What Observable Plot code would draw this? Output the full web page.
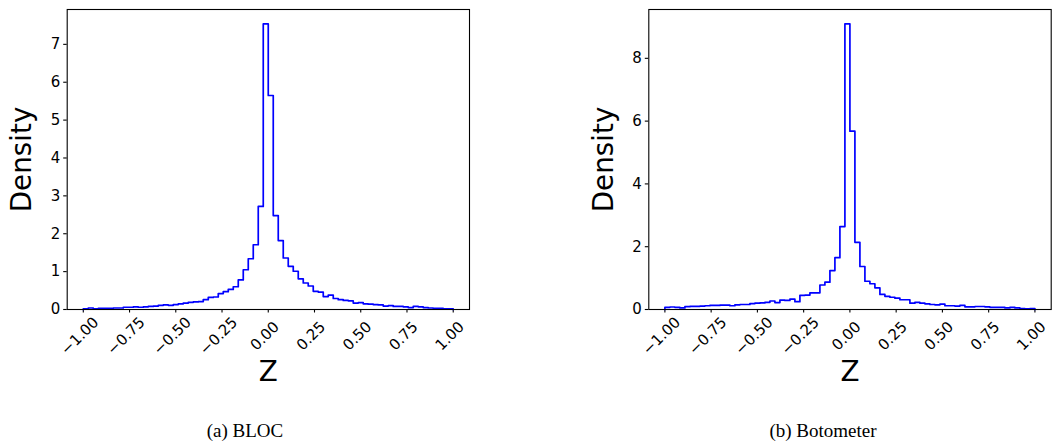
<!DOCTYPE html>
<html>
<head>
<meta charset="utf-8">
<script src="https://cdn.jsdelivr.net/npm/d3@7"></script>
<script src="https://cdn.jsdelivr.net/npm/@observablehq/plot@0.6"></script>
<style>
  html, body { margin: 0; padding: 0; background: #fff; }
  #wrap { position: relative; width: 1054px; height: 441px; overflow: hidden; background: #fff; }
  .panel { position: absolute; top: 0; }
  .cap { position: absolute; top: 420px; font-family: "Liberation Serif", "Times New Roman", serif; font-size: 19px; color: #000; transform: translateX(-50%); white-space: nowrap; }
</style>
</head>
<body>
<div id="wrap"></div>
<script>
// Histogram layout (74 equal bins over [-1, 1])
const binStart = -1.0;
const binEnd = 1.0;
const binCount = 74;

// Densities per bin
const blocDensity = [
  0.02, 0.04, 0.02, 0.03, 0.03, 0.03, 0.04, 0.04, 0.06, 0.06,
  0.07, 0.06, 0.07, 0.08, 0.09, 0.11, 0.12, 0.11, 0.13, 0.15,
  0.17, 0.19, 0.20, 0.21, 0.26, 0.32, 0.33, 0.42, 0.47, 0.53,
  0.60, 0.78, 1.05, 1.34, 1.71, 2.72, 7.54, 5.65, 2.48, 1.82,
  1.36, 1.14, 1.01, 0.81, 0.70, 0.62, 0.48, 0.46, 0.34, 0.38,
  0.29, 0.26, 0.24, 0.23, 0.17, 0.18, 0.15, 0.14, 0.13, 0.12,
  0.09, 0.10, 0.08, 0.08, 0.07, 0.05, 0.08, 0.07, 0.05, 0.04,
  0.03, 0.03, 0.02, 0.02
];
const botometerDensity = [
  0.07, 0.08, 0.07, 0.05, 0.09, 0.10, 0.10, 0.11, 0.12, 0.13,
  0.13, 0.14, 0.14, 0.12, 0.15, 0.16, 0.16, 0.19, 0.20, 0.21,
  0.23, 0.27, 0.22, 0.30, 0.29, 0.33, 0.25, 0.45, 0.46, 0.53,
  0.53, 0.78, 0.87, 1.24, 1.65, 2.64, 9.10, 5.68, 2.14, 1.37,
  0.90, 0.82, 0.69, 0.48, 0.42, 0.39, 0.36, 0.31, 0.31, 0.20,
  0.23, 0.20, 0.18, 0.16, 0.15, 0.17, 0.12, 0.12, 0.11, 0.13,
  0.085, 0.085, 0.095, 0.095, 0.085, 0.07, 0.065, 0.065, 0.05, 0.07,
  0.05, 0.03, 0.02, 0.03
];

// Axis ticks and limits
const xTicks = [-1.0, -0.75, -0.5, -0.25, 0.0, 0.25, 0.5, 0.75, 1.0];
const xDomain = [-1.087, 1.088];
const blocYTicks = [0, 1, 2, 3, 4, 5, 6, 7];
const blocYDomain = [0, 7.92];
const botYTicks = [0, 2, 4, 6, 8];
const botYDomain = [0, 9.555];

const captions = ["(a) BLOC", "(b) Botometer"];
const xLabel = "Z";
const yLabel = "Density";

const binWidth = (binEnd - binStart) / binCount;
const edges = d3.range(binCount + 1).map(i => binStart + i * binWidth);

function stepPoints(dens) {
  const pts = [{x: edges[0], y: 0}];
  dens.forEach((d, i) => pts.push({x: edges[i], y: d}));
  pts.push({x: edges[dens.length], y: 0});
  return pts;
}

const fmt = d3.format(".2f");

function panel(dens, yTicks, yDomain, left, mLeft, mRight) {
  const p = Plot.plot({
    width: 527,
    height: 400,
    marginLeft: mLeft,
    marginRight: mRight,
    marginTop: 9,
    marginBottom: 91,
    style: {fontFamily: "DejaVu Sans", fontSize: "15px", background: "white", color: "black", overflow: "visible"},
    x: {domain: xDomain},
    y: {domain: yDomain},
    marks: [
      Plot.axisY({ticks: yTicks, tickSize: 3.5, tickPadding: 3.5, tickFormat: d3.format("d"), label: null, fontSize: 15, strokeWidth: 1.1}),
      Plot.axisX({ticks: xTicks, tickSize: 3.5, tickFormat: () => "", label: null, strokeWidth: 1.1}),
      Plot.text(xTicks, {x: d => d, frameAnchor: "bottom", text: d => fmt(d), rotate: -45, textAnchor: "middle", dy: 30, fontSize: 15}),
      Plot.line(stepPoints(dens), {x: "x", y: "y", curve: "step-after", stroke: "#0000ff", strokeWidth: 1.7}),
      Plot.frame({stroke: "black", strokeWidth: 1.1}),
      Plot.text([yLabel], {frameAnchor: "left", dx: -45, rotate: -90, text: d => d, fontSize: 27.8, textAnchor: "middle"}),
      Plot.text([xLabel], {frameAnchor: "bottom", dy: 71, text: d => d, fontSize: 27.8, textAnchor: "middle"})
    ]
  });
  p.classList.add("panel");
  p.style.left = left + "px";
  return p;
}

const wrap = document.getElementById("wrap");
wrap.appendChild(panel(blocDensity, blocYTicks, blocYDomain, 0, 66.7, 58));
wrap.appendChild(panel(botometerDensity, botYTicks, botYDomain, 527, 121.3, 3.3));

const capX = [245, 823];
captions.forEach((c, i) => {
  const d = document.createElement("div");
  d.className = "cap";
  d.style.left = capX[i] + "px";
  d.textContent = c;
  wrap.appendChild(d);
});
</script>
</body>
</html>
